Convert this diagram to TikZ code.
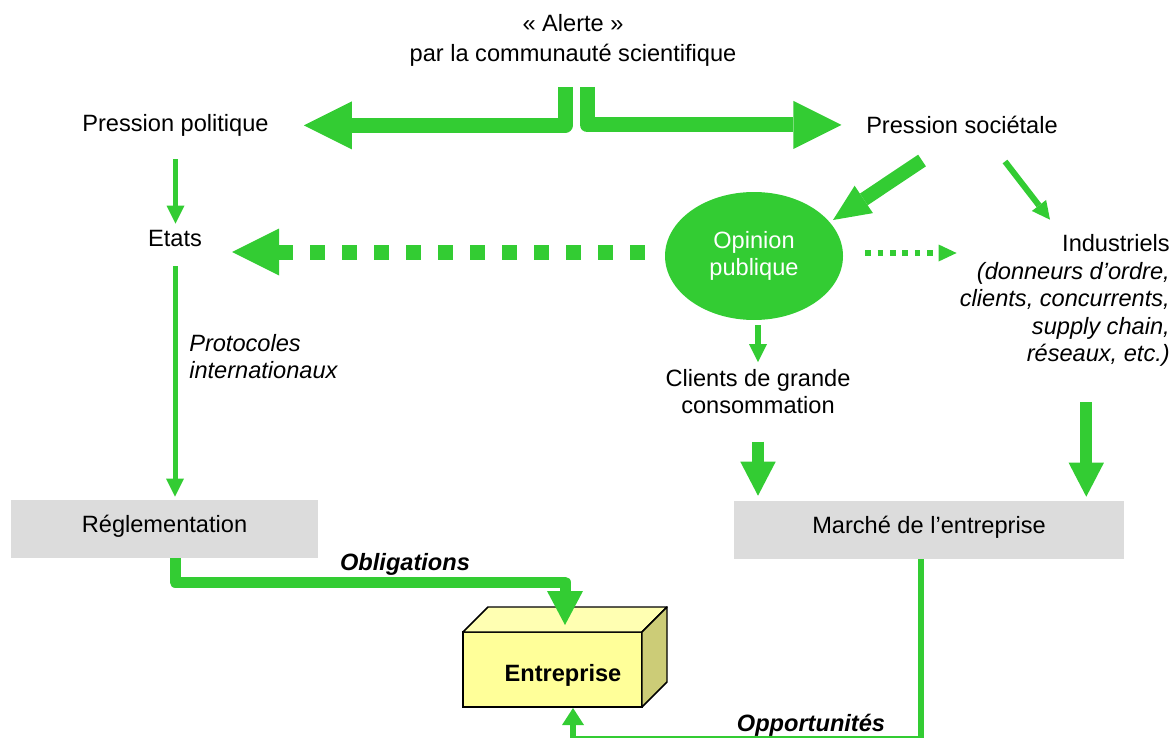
\documentclass[tikz,border=0pt]{standalone}
\usepackage{fontspec}
\setmainfont{Liberation Sans}
\usetikzlibrary{arrows.meta, positioning, calc, shapes.geometric}
\definecolor{flowgreen}{RGB}{51,204,51}
\definecolor{boxgrey}{RGB}{220,220,220}
\definecolor{boxfront}{RGB}{255,255,153}
\definecolor{boxtop}{RGB}{255,255,178}
\definecolor{boxside}{RGB}{204,204,119}
\newcommand{\basefont}{\fontsize{17.7pt}{20.6pt}\selectfont}

\begin{document}
\begin{tikzpicture}[
    x=0.75pt, y=-0.75pt,
    txt/.style={inner sep=0pt, font=\basefont},
    greybox/.style={rectangle, fill=boxgrey, inner sep=0pt, minimum height=43.5pt, font=\basefont,
      text height=12.7pt, text depth=7pt},
    entbox/.style={rectangle, draw=black, line width=1.1pt, fill=boxfront, inner sep=0pt, outer sep=0pt,
      minimum width=134.25pt, minimum height=56.25pt, font=\basefont\bfseries,
      text height=21.2pt, text depth=3.7pt},
    opinion/.style={ellipse, fill=flowgreen, inner sep=0pt, minimum width=133.5pt, minimum height=96pt,
      align=center, text=white, font=\basefont},
    bigflow/.style={draw=flowgreen, line width=11.25pt, line join=round,
      -{Triangle[length=36pt, width=36pt, line width=0pt]}},
    thinflow/.style={draw=flowgreen, line width=3.75pt, -{Triangle[length=13.5pt, width=13.5pt, line width=0pt]}},
    midflow/.style={draw=flowgreen, line width=4.5pt, -{Triangle[length=13.5pt, width=13.5pt, line width=0pt]}},
    heavyflow/.style={draw=flowgreen, line width=9pt, -{Triangle[length=25.5pt, width=26.5pt, line width=0pt]}},
    diagflow/.style={draw=flowgreen, line width=10.5pt, -{Triangle[length=27.75pt, width=24.7pt, line width=0pt]}},
    obligflow/.style={draw=flowgreen, line width=8.25pt, line join=round,
      -{Triangle[length=25.5pt, width=27pt, line width=0pt]}},
    oppflow/.style={draw=flowgreen, line width=4.1pt, -{Triangle[length=12.75pt, width=16.5pt, line width=0pt]}},
    dotbig/.style={draw=flowgreen, line width=11.25pt, dash pattern=on 11.25pt off 12.75pt,
      -{Triangle[length=35.25pt, width=35.25pt, line width=0pt]}},
    dotsmall/.style={draw=flowgreen, line width=4.5pt, dash pattern=on 4.1pt off 5.2pt,
      -{Triangle[length=13.5pt, width=12.75pt, line width=0pt]}}
  ]
  \useasboundingbox (0,0) rectangle (1173,738);
  \clip (0,0) rectangle (1173,738);

  \node[txt, align=center, font=\fontsize{17.7pt}{22.5pt}\selectfont] (alerte) at (573,40.5)
    {« Alerte »\\par la communauté scientifique};
  \node[txt, anchor=base] (polit) at (175.5,131.5) {Pression politique};
  \node[txt, anchor=base] (societ) at (962,133.5) {Pression sociétale};
  \node[txt, anchor=base] (etats) at (175,246.5) {Etats};
  \node[txt, align=left, anchor=west, font=\basefont\itshape] (protoc) at (189,356.5)
    {Protocoles\\internationaux};
  \node[opinion] (opinion) at (754,256) {Opinion\\publique};
  \node[txt, align=center] (clients) at (758,391.5) {Clients de grande\\consommation};
  \node[txt, align=right, anchor=east] (indus) at (1170,300.5)
    {Industriels\\\textit{(donneurs d’ordre,}\\\textit{clients, concurrents,}\\\textit{supply chain,}\\\textit{réseaux, etc.)}};
  \node[greybox, minimum width=230.25pt] (regl) at (164.5,529) {Réglementation};
  \node[greybox, minimum width=292.5pt] (marche) at (929,530) {Marché de l’entreprise};

  \node[entbox] (entr) at (552.5,669.5) {\hspace*{15.75pt}Entreprise};
  \draw[fill=boxtop, line width=1.1pt, line join=round] (entr.north west) -- ++(25,-25) -- ++(179,0) -- (entr.north east) -- cycle;
  \draw[fill=boxside, line width=1.1pt, line join=round] (entr.north east) -- ++(25,-25) -- ++(0,75) -- (entr.south east) -- cycle;

  \node[txt, anchor=base, font=\basefont\bfseries\itshape] (oblab) at (405,570.5) {Obligations};
  \node[txt, anchor=base, font=\basefont\bfseries\itshape] (opplab) at (811,731.5) {Opportunités};

  \coordinate (stemL) at (565,87);
  \coordinate (stemR) at (587,87);
  \coordinate (oblig) at (565,582);
  \coordinate (opp) at (921,739);
  \coordinate (mIn) at ($(marche.north east)+(-38,0)$);
  \coordinate (d1) at ($(opinion.west)+(-20,-4)$);
  \coordinate (d2) at ($(opinion.east)+(22,-3)$);

  \draw[bigflow, shorten >=26.25pt] (stemL) |- (polit);
  \draw[bigflow, shorten >=18.4pt] (stemR) |- (societ);
  \draw[thinflow, shorten <=16.9pt, shorten >=4.7pt] (polit.south) -- (polit.south |- etats.north);
  \draw[thinflow, shorten <=14.6pt, shorten >=2.25pt] (etats.south) -- (etats.south |- regl.north);
  \draw[dotbig, shorten >=22.5pt] (d1) -- (d1 -| etats.east);
  \draw[dotsmall, shorten >=2.25pt] (d2) -- (d2 -| indus.west);
  \draw[diagflow] ($(societ.south)+(-40,26.5)$) -- ($(opinion.center)+(79,-36)$);
  \draw[midflow] ($(societ.south)+(43,27.5)$) -- ($(indus.north east)+(-120,-14.6)$);
  \draw[midflow, shorten <=3.75pt, shorten >=5pt] (clients.north |- opinion.south) -- (clients.north);
  \draw[heavyflow, shorten <=20.6pt, shorten >=3.75pt] (clients.south) -- (clients.south |- marche.north);
  \draw[heavyflow, shorten <=26.6pt, shorten >=3pt] (mIn |- indus.south) -- (mIn);
  \draw[obligflow, shorten >=5.25pt] (etats.south |- regl.south) |- (oblig) -- (oblig |- entr.north);
  \draw[oppflow, shorten >=0.75pt] (opp |- marche.south) -- (opp) -| ($(entr.south)+(20.5,0)$);
\end{tikzpicture}
\end{document}
